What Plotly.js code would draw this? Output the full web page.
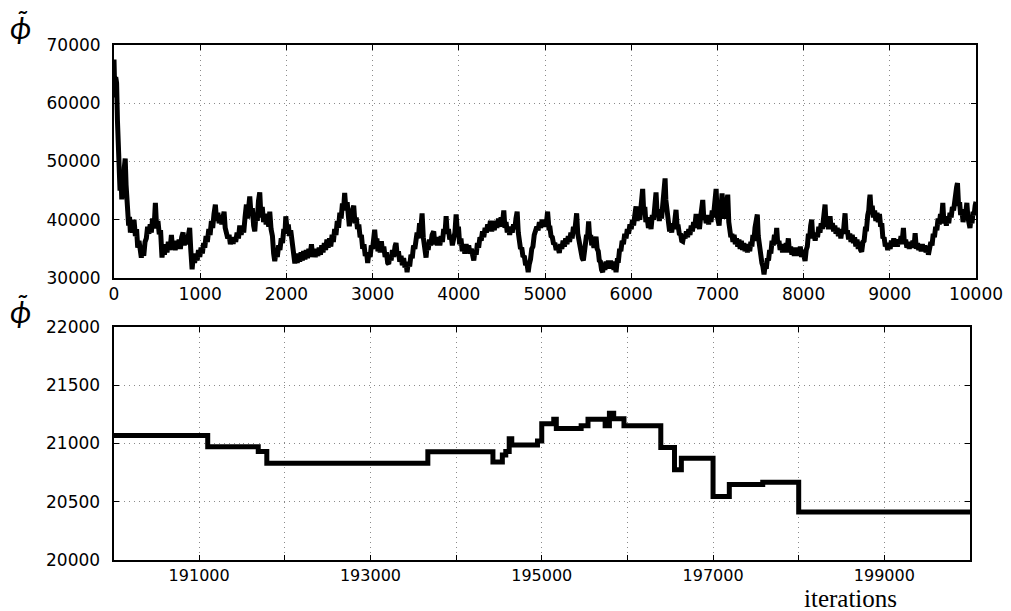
<!DOCTYPE html>
<html>
<head>
<meta charset="utf-8">
<script src="https://cdn.plot.ly/plotly-3.0.1.min.js"></script>
<style>html,body{margin:0;padding:0;background:#fff;}#chart{width:1011px;height:611px;}</style>
</head>
<body>
<div id="chart"></div>
<script>
// ---- Data ----
// Top panel: first 10000 iterations, [iteration, phi] samples
const topSamples = [
[0,67500],[10,61000],[20,64500],[30,63500],[40,57000],[50,52000],[60,49000],[70,45000],[80,48500],[90,43500],[100,47500],[110,44000],[120,49000],[130,50500],[140,46000],[150,43000],[160,41500],[170,39000],[180,40500],[190,37800],[200,39500],
[215,37800],[232,40000],[248,37200],[262,38400],[275,35200],[290,36400],[305,34200],[317,33500],[330,35200],[345,33800],[360,36200],[375,36800],[390,38800],[405,37600],[420,39200],[433,37800],[448,40200],[465,38600],[480,42900],[495,38500],[510,39800],[525,37500],[540,38200],[557,33500],[570,35500],[585,34000],[600,35800],
[615,34400],[630,36200],[650,34800],[666,37400],[680,35000],[695,36400],[710,34800],[725,36200],[740,35200],[755,36600],[770,35000],[785,37000],[801,37800],[815,35600],[830,37000],[845,35800],[860,37600],[878,38600],[890,35000],[906,31500],[920,33800],[935,32600],[950,34200],[965,33000],[980,34800],[995,33600],
[1010,35200],[1025,34200],[1040,36000],[1053,35200],[1068,37200],[1083,36200],[1100,38400],[1115,37400],[1130,39800],[1145,38600],[1160,41000],[1176,42600],[1190,39800],[1205,41200],[1220,39400],[1235,40800],[1250,39200],[1265,40600],[1277,41400],[1290,38600],[1305,37400],[1320,36800],[1335,37400],[1350,35800],[1365,36800],[1382,35900],[1398,37000],[1412,36200],[1428,37800],[1444,36800],[1459,39000],[1475,37400],[1490,38800],[1505,37800],
[1520,40400],[1536,42600],[1550,40200],[1562,43000],[1575,44000],[1590,40800],[1605,42000],[1620,39000],[1633,38000],[1648,41200],[1662,39800],[1676,43200],[1691,44700],[1705,40400],[1720,42200],[1735,39600],[1750,41000],[1765,39200],[1780,40400],[1795,38800],[1807,41400],[1822,38400],[1838,37200],[1852,34200],[1865,32900],[1880,34600],[1895,33600],[1910,35600],[1925,34800],[1940,36800],[1955,36000],[1970,38400],[1983,37600],[1993,40600],
[2008,38200],[2022,39200],[2036,37200],[2050,38200],[2064,36200],[2078,35000],[2090,33200],[2098,32500],[2112,34000],[2126,32600],[2140,34200],[2155,32800],[2170,34400],[2185,33000],[2200,34600],[2215,33200],[2230,34800],[2245,33400],[2260,35000],[2275,34000],[2291,35800],[2305,33600],[2320,35000],[2335,33600],[2350,34800],[2365,33800],[2380,35200],[2395,34000],[2410,35600],[2425,34400],[2440,36000],[2455,34800],[2470,36600],[2485,35200],[2500,36800],
[2515,35400],[2530,37400],[2545,36200],[2560,38400],[2575,37400],[2590,39800],[2605,38600],[2620,41200],[2635,40200],[2650,42800],[2663,41600],[2676,44600],[2690,41800],[2705,43000],[2718,40200],[2730,38900],[2745,41200],[2758,40000],[2770,41800],[2781,42400],[2795,39400],[2810,40400],[2825,38400],[2840,39200],[2855,37000],[2870,37400],[2885,35000],[2900,35800],[2915,33800],[2930,34400],[2943,32600],[2958,34400],[2972,33600],[2985,35600],[3000,35000],
[3012,37000],[3024,38300],[3038,35800],[3050,36800],[3062,34600],[3075,35600],[3088,34400],[3102,36300],[3115,34400],[3130,35400],[3145,33600],[3160,34400],[3175,32600],[3187,32400],[3200,34000],[3215,33000],[3230,34800],[3245,33600],[3260,35400],[3272,36000],[3286,33800],[3300,34600],[3315,32800],[3330,33800],[3345,32200],[3360,33400],[3375,31800],[3388,32800],[3400,31000],[3415,32800],[3430,32000],[3445,34000],[3460,33400],[3475,35600],[3490,35000],
[3505,37400],[3516,37800],[3530,36800],[3545,39400],[3560,38400],[3574,41100],[3588,37000],[3600,36000],[3610,34200],[3620,33500],[3632,35600],[3645,34800],[3660,36600],[3675,35600],[3690,37400],[3709,38000],[3722,35800],[3736,37000],[3750,35600],[3765,36800],[3780,35600],[3795,37200],[3810,36200],[3825,38400],[3840,37600],[3853,40600],[3866,37600],[3880,38400],[3895,36600],[3910,37400],[3925,35600],[3940,36800],[3955,37800],[3969,40900],[3983,38000],[3996,38800],
[4010,35800],[4025,36800],[4040,34600],[4055,35600],[4070,34200],[4085,35800],[4100,34600],[4115,35600],[4130,34200],[4145,35000],[4160,33400],[4174,33000],[4188,34800],[4202,34000],[4216,36000],[4230,35200],[4245,37000],[4260,36400],[4275,38000],[4290,37000],[4305,38600],[4320,37800],[4335,39200],[4350,38200],[4367,39800],[4382,38000],[4397,39400],[4412,38200],[4427,39800],[4442,38600],[4460,40200],[4475,38800],[4490,40400],[4505,39200],
[4522,41600],[4535,38600],[4548,39600],[4562,37800],[4576,38800],[4590,37400],[4605,38800],[4620,37800],[4635,39200],[4650,38400],[4663,40200],[4677,41400],[4690,37800],[4703,36400],[4716,35000],[4730,35200],[4745,33600],[4760,33800],[4775,32200],[4790,32600],[4805,31000],[4818,32400],[4832,33200],[4846,35000],[4860,35400],[4875,37400],[4890,38000],[4905,38800],[4920,38200],[4935,39600],[4950,38600],[4967,40000],[4985,38800],
[5000,40000],[5015,39200],[5030,41400],[5045,38600],[5058,38600],[5070,37200],[5085,37000],[5100,35800],[5115,36000],[5130,34800],[5145,35600],[5166,34300],[5180,35800],[5195,35000],[5210,36400],[5225,35400],[5240,36800],[5255,35800],[5270,37200],[5285,36200],[5300,37800],[5315,36800],[5330,38800],[5345,38000],[5357,40200],[5367,41100],[5380,37600],[5393,36400],[5405,35000],[5418,35000],[5432,33400],[5445,33000],[5458,35200],[5470,34800],[5482,37400],[5494,37000],[5506,39700],
[5518,37000],[5530,37400],[5542,35600],[5555,36200],[5568,35200],[5580,36400],[5592,37100],[5605,35000],[5618,34600],[5630,33000],[5643,32800],[5656,31400],[5669,31000],[5682,32600],[5695,31400],[5708,32800],[5721,31600],[5735,33000],[5748,31800],[5761,33000],[5774,31600],[5787,32800],[5800,31400],[5812,32600],[5824,31000],[5838,33000],[5852,33000],[5866,35000],[5880,34600],[5895,36400],[5910,35800],[5925,37600],[5940,36800],[5955,38400],[5970,37600],[5985,39200],[6000,38400],
[6015,40000],[6028,39000],[6042,40800],[6056,42300],[6070,39800],[6085,41200],[6100,40000],[6115,42800],[6124,44200],[6133,45300],[6145,41400],[6158,42200],[6170,39600],[6185,40400],[6200,38600],[6215,39600],[6230,38400],[6245,40800],[6260,40000],[6275,42600],[6288,44700],[6300,41200],[6313,41800],[6326,39800],[6340,41400],[6352,40200],[6364,42800],[6375,43400],[6385,46200],[6393,47100],[6402,43400],[6412,41400],[6422,39600],[6434,39400],[6446,38000],[6458,38800],[6470,37800],[6482,39400],[6495,38400],
[6508,40400],[6520,41700],[6533,38800],[6546,38800],[6560,37400],[6573,37600],[6586,36400],[6598,36300],[6612,37400],[6626,36800],[6640,38000],[6654,37000],[6668,38400],[6682,37400],[6696,39000],[6710,38000],[6724,39600],[6738,38800],[6753,41000],[6766,38600],[6779,39600],[6792,38400],[6805,40400],[6818,41600],[6830,43400],[6843,40000],[6856,40800],[6870,39400],[6884,40600],[6898,39200],[6912,40800],[6926,39600],[6940,41600],[6953,40400],[6966,43000],[6976,44200],[6985,45300],
[6998,40600],[7010,40000],[7020,39000],[7032,42000],[7044,42400],[7054,44500],[7066,41000],[7076,40200],[7088,41600],[7100,41200],[7110,43000],[7120,44300],[7132,39600],[7144,37600],[7156,37000],[7168,37600],[7180,36200],[7194,37400],[7208,35800],[7222,36800],[7236,35400],[7250,36600],[7264,35000],[7278,36400],[7292,34800],[7306,36000],[7320,34600],[7334,35800],[7348,34400],[7362,35600],[7375,34600],[7388,36200],[7400,35400],[7412,37400],[7424,36400],[7436,38600],[7450,39600],[7463,40900],
[7474,37200],[7484,35800],[7494,34800],[7505,34400],[7516,32600],[7528,32000],[7541,30600],[7554,32200],[7567,31600],[7580,33400],[7593,33000],[7606,34800],[7620,34200],[7634,36400],[7648,35600],[7662,37400],[7676,36400],[7688,38600],[7700,35800],[7714,36400],[7728,34800],[7742,35800],[7756,34400],[7770,35800],[7784,34400],[7798,36000],[7810,35200],[7823,36800],[7836,34400],[7850,35400],[7864,34000],[7878,35200],[7892,33800],[7906,35000],[7920,33800],[7934,35200],[7948,34000],[7962,35400],[7976,33600],[7990,34800],[8004,33200],[8017,32900],
[8030,34800],[8043,35400],[8056,37600],[8069,36800],[8082,39000],[8094,40000],[8107,36800],[8120,37800],[8134,36400],[8148,37800],[8162,37000],[8176,38800],[8190,37800],[8204,39400],[8218,38400],[8232,40400],[8241,41400],[8249,42600],[8262,38800],[8275,39600],[8288,38400],[8300,40000],[8307,40600],[8320,38400],[8334,39400],[8348,38000],[8362,39000],[8376,37600],[8390,38600],[8404,37200],[8418,38400],[8432,36800],[8446,38400],[8460,37600],[8472,39800],[8481,41100],[8494,37600],
[8508,38200],[8522,36600],[8536,37600],[8550,36200],[8564,37400],[8578,36000],[8592,37000],[8606,35400],[8620,36600],[8634,35000],[8648,36200],[8662,34800],[8674,34500],[8688,36200],[8702,36400],[8716,38400],[8730,38400],[8744,40800],[8756,41600],[8764,43400],[8771,44300],[8784,41200],[8796,42400],[8810,40400],[8824,41600],[8838,39800],[8852,41200],[8866,39600],[8880,41000],[8894,38800],[8907,39400],[8920,36800],[8934,37000],[8948,35400],[8962,36000],[8976,34800],[8990,35800],
[9004,35000],[9018,36400],[9032,35400],[9046,36800],[9060,35600],[9074,36600],[9088,35400],[9102,36600],[9116,35800],[9130,37200],[9144,36400],[9158,38600],[9170,35800],[9184,36600],[9198,35200],[9212,36200],[9226,35000],[9240,36200],[9254,35200],[9268,36400],[9282,35400],[9294,37700],[9308,35000],[9322,36000],[9336,34800],[9350,35800],[9364,34600],[9378,35800],[9392,34600],[9406,35600],[9420,34400],[9434,35400],[9448,34000],[9462,35400],
[9476,36200],[9490,35600],[9504,37600],[9518,37000],[9532,38800],[9546,38200],[9560,40200],[9574,39200],[9588,41000],[9602,40400],[9615,42900],[9628,39400],[9642,40600],[9656,39000],[9670,40600],[9684,39400],[9698,41200],[9712,40400],[9726,42200],[9740,41600],[9752,43600],[9764,44600],[9775,45600],[9785,46300],[9798,42400],[9810,43000],[9822,40800],[9836,41800],[9850,39600],[9862,40800],[9874,40200],[9884,42000],[9894,42900],[9906,40400],[9918,39200],[9930,38600],[9942,40200],[9954,39400],[9966,41400],[9978,40800],[9990,42400],[10000,43100]
];

// Bottom panel: iterations 190000-200000, step levels
const iterBottom = [190000,191100,191690,191790,193670,194430,194540,194580,194620,194650,194950,195000,195140,195170,195460,195540,195740,195790,195840,195960,196390,196550,196630,197000,197190,197580,198000,200000];
const phiBottom  = [21067, 20970, 20930, 20830, 20928, 20840, 20900, 20930, 21040, 20985, 21020, 21167, 21207, 21127, 21150, 21207, 21150, 21259, 21210, 21150, 20964, 20773, 20873, 20545, 20647, 20667, 20411, 20411];

// Tick labels
const topXTicks = [0,1000,2000,3000,4000,5000,6000,7000,8000,9000,10000];
const topYTicks = [30000,40000,50000,60000,70000];
const bottomXTicks = [191000,192000,193000,194000,195000,196000,197000,198000,199000];
const bottomXText  = ['191000','','193000','','195000','','197000','','199000'];
const bottomYTicks = [20000,20500,21000,21500,22000];
const xLabel = 'iterations';
const yLabel = '<i>\u03D5\u0303</i>';

// ---- Build chart ----
const iterTop = topSamples.map(p => p[0]);
const phiTop = topSamples.map(p => p[1]);

const W = 1011, H = 611;
const tickFont = {family: 'DejaVu Sans', size: 17, color: '#000'};

function axis(extra) {
  return Object.assign({
    showline: true, linewidth: 2, linecolor: '#000', mirror: 'ticks',
    ticks: 'inside', ticklen: 5, tickwidth: 1, tickcolor: '#000',
    showgrid: true, gridcolor: '#8a8a8a', gridwidth: 1, griddash: '1px,4px',
    zeroline: false, fixedrange: true, tickfont: tickFont, tickmode: 'array'
  }, extra);
}

const traces = [
  {x: iterTop, y: phiTop, type: 'scatter', mode: 'lines', xaxis: 'x', yaxis: 'y',
   line: {color: '#000', width: 5}, hoverinfo: 'skip'},
  {x: iterBottom, y: phiBottom, type: 'scatter', mode: 'lines', xaxis: 'x2', yaxis: 'y2',
   line: {color: '#000', width: 5, shape: 'hv'}, hoverinfo: 'skip'}
];

function lab(text, x, y, font) {
  return {text: text, xref: 'paper', yref: 'paper', x: x/W, y: 1-y/H,
          xanchor: 'center', yanchor: 'middle', showarrow: false, font: font};
}
const phiFont = {family: 'Lato', size: 31, color: '#000'};

const layout = {
  width: W, height: H,
  margin: {l: 0, r: 0, t: 0, b: 0},
  paper_bgcolor: '#fff', plot_bgcolor: '#fff',
  showlegend: false,
  xaxis: axis({domain: [114/W, 976/W], range: [0, 10000], anchor: 'y',
    tickvals: topXTicks, ticktext: topXTicks.map(String)}),
  yaxis: axis({domain: [1-278/H, 1-45/H], range: [30000, 70000], anchor: 'x',
    tickvals: topYTicks, ticktext: topYTicks.map(String), ticklabelstandoff: 8}),
  xaxis2: axis({domain: [113.5/W, 970/W], range: [190000, 200000], anchor: 'y2',
    tickvals: bottomXTicks, ticktext: bottomXText,
    tickfont: {family: 'DejaVu Sans', size: 16, color: '#000'}}),
  yaxis2: axis({domain: [1-560/H, 1-326.7/H], range: [20000, 22000], anchor: 'x2',
    tickvals: bottomYTicks, ticktext: bottomYTicks.map(String), ticklabelstandoff: 8}),
  annotations: [
    lab(yLabel, 20, 27, phiFont),
    lab(yLabel, 20, 311, phiFont),
    lab(xLabel, 850, 598.5, {family: 'Liberation Serif', size: 25, color: '#000'})
  ]
};

Plotly.newPlot('chart', traces, layout, {staticPlot: true, displayModeBar: false});
</script>
</body>
</html>
